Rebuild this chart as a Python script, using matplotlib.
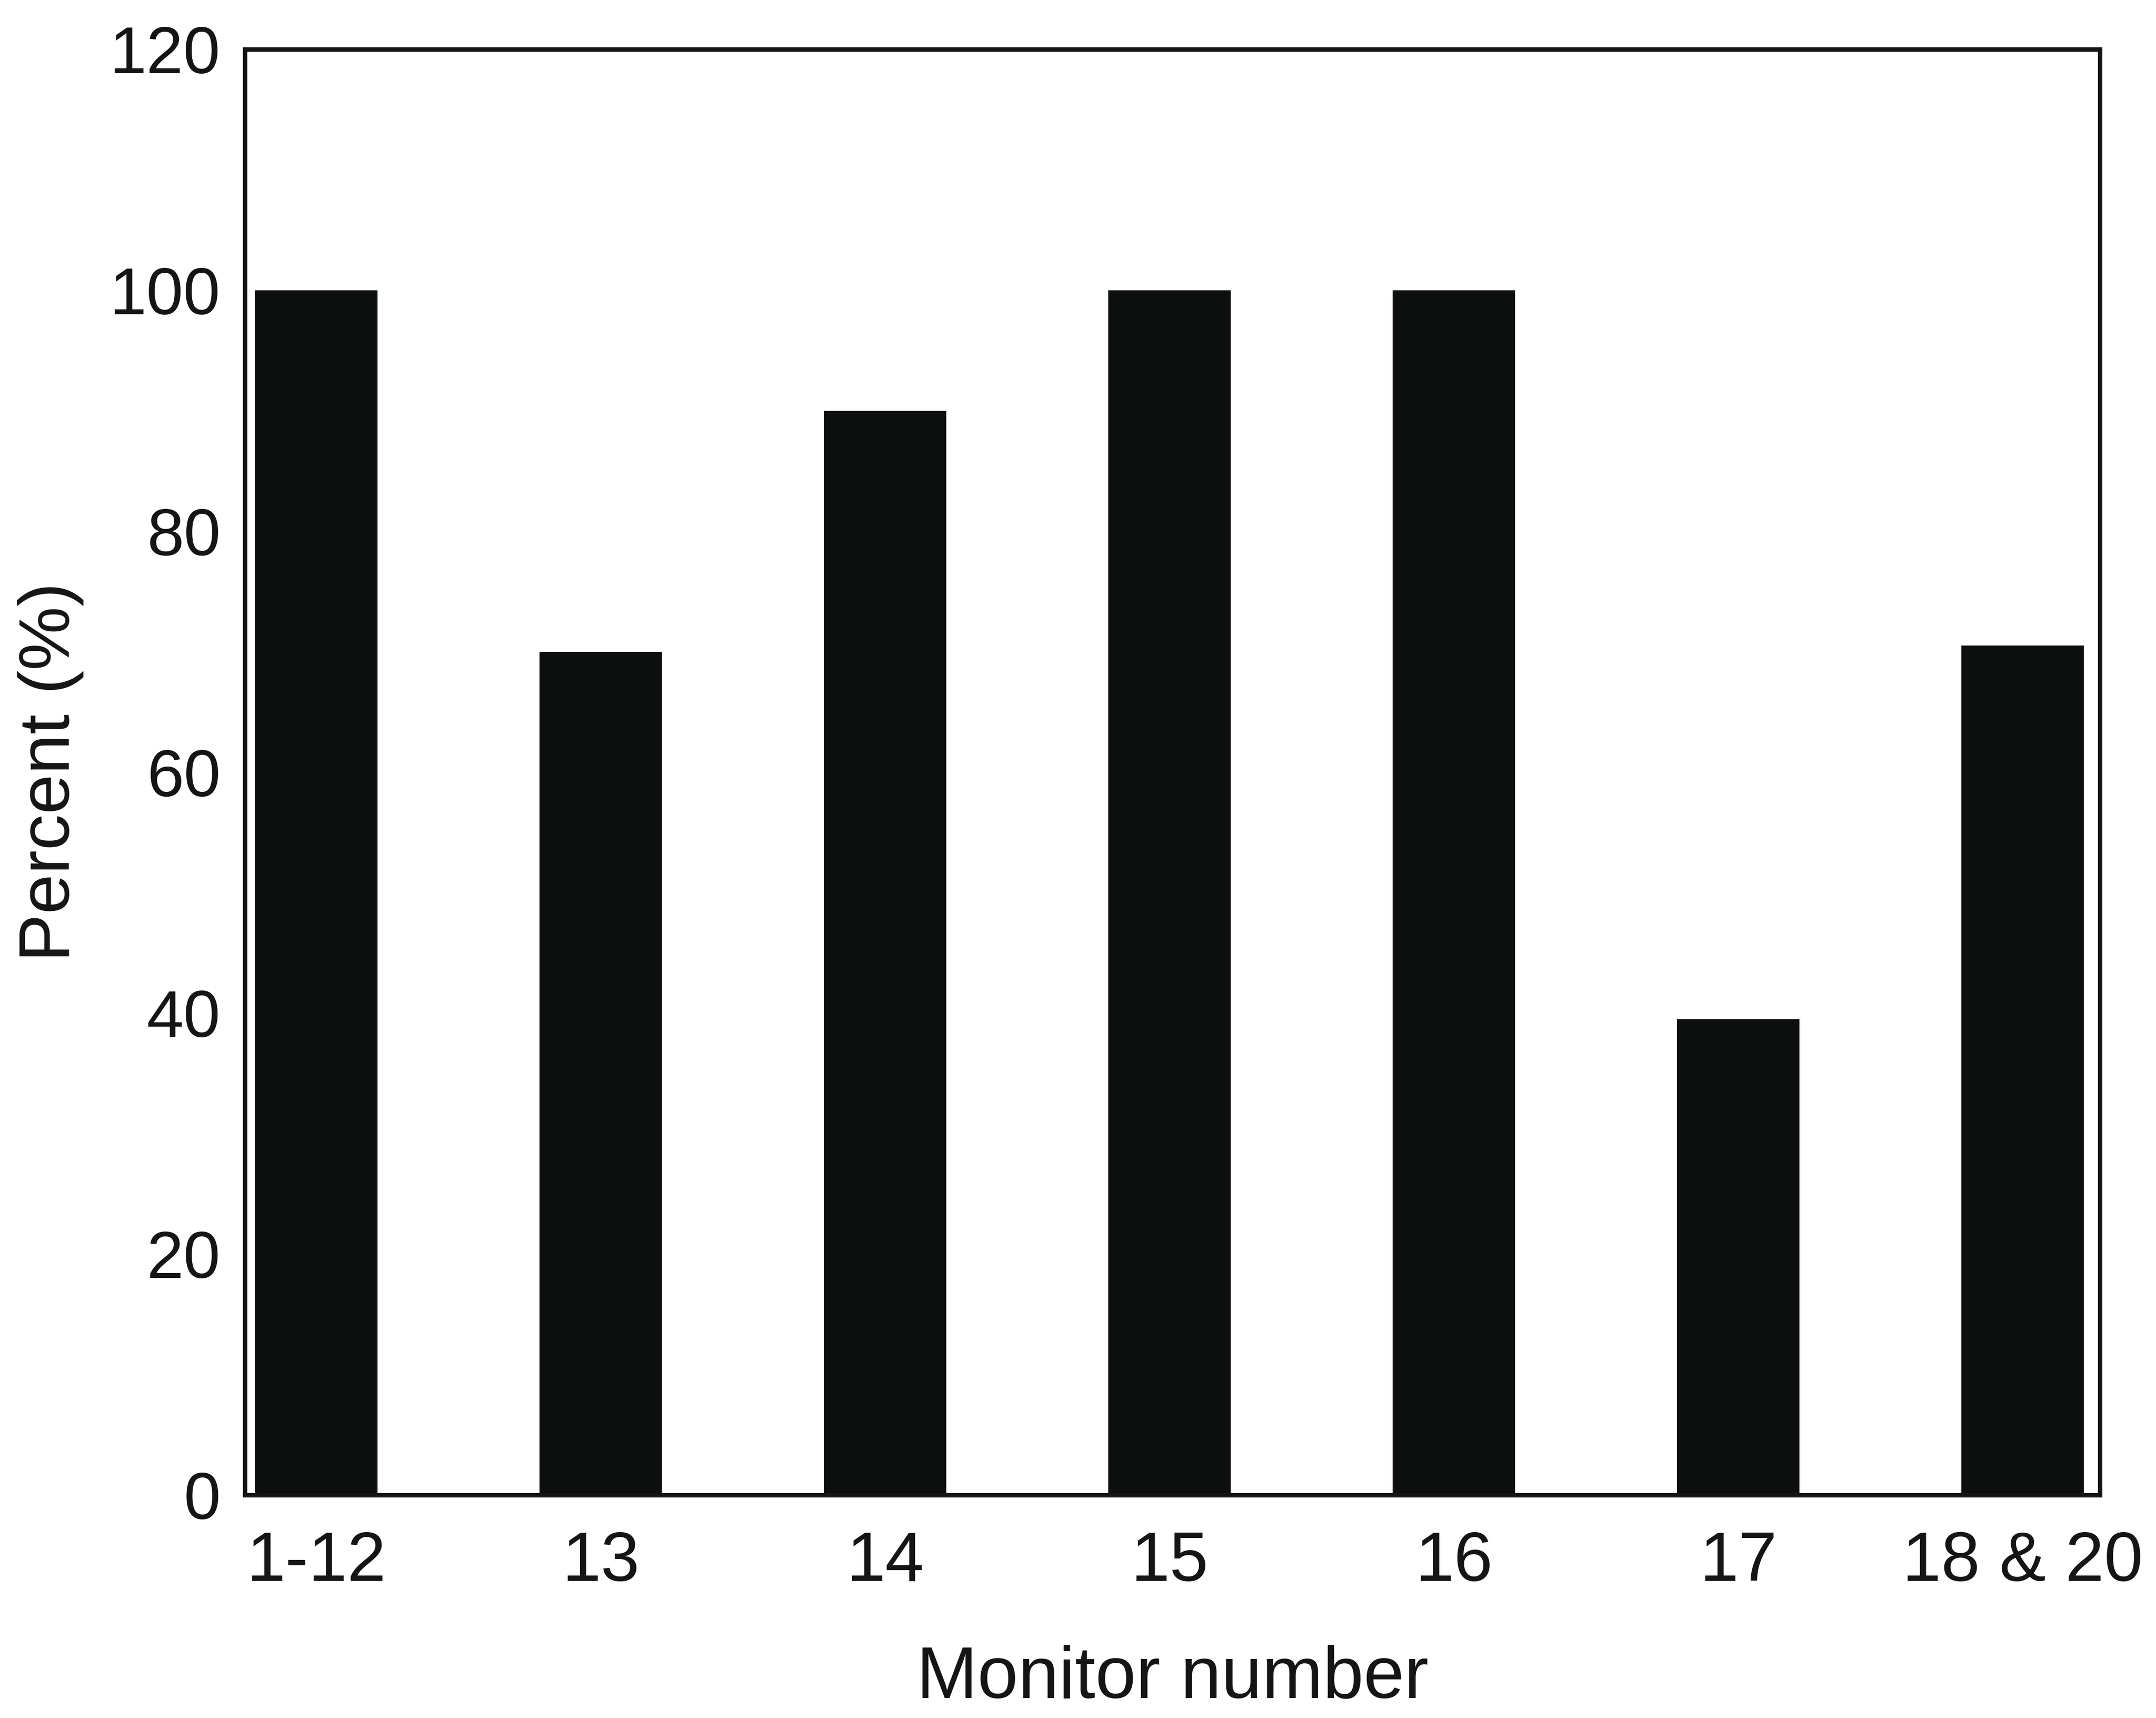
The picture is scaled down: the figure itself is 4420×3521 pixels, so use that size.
import matplotlib
matplotlib.use('Agg')
import matplotlib.pyplot as plt
import numpy as np

# Monitor groups and percent values
monitors = ['1-12', '13', '14', '15', '16', '17', '18 & 20']
percent = [100, 70, 90, 100, 100, 39.5, 70.5]
y_ticks = [0, 20, 40, 60, 80, 100, 120]

plt.rcParams['font.family'] = ['Liberation Sans', 'DejaVu Sans']

fig = plt.figure(figsize=(44.2, 35.21), dpi=100)
ax = fig.add_axes([0.1136, 0.1298, 0.974 - 0.1136, 0.9713 - 0.1298])

x = np.arange(len(monitors))
ax.bar(x, percent, width=0.43, color='#0d0f0e')

ax.set_xlim(-0.2515, 6.272)
ax.set_ylim(0, 120)
ax.set_yticks(y_ticks)
ax.set_xticks(x)
ax.set_xticklabels(monitors)

for s in ax.spines.values():
    s.set_linewidth(6.5)
    s.set_color('#151515')

ax.tick_params(axis='both', length=0, colors='#151515')
ax.tick_params(axis='x', pad=52, labelsize=103)
ax.tick_params(axis='y', pad=36, labelsize=98)

ax.set_xlabel('Monitor number', fontsize=108, labelpad=72, color='#151515')
ax.set_ylabel('Percent (%)', fontsize=106, labelpad=38, color='#151515')

plt.savefig('out.png', dpi=100)
